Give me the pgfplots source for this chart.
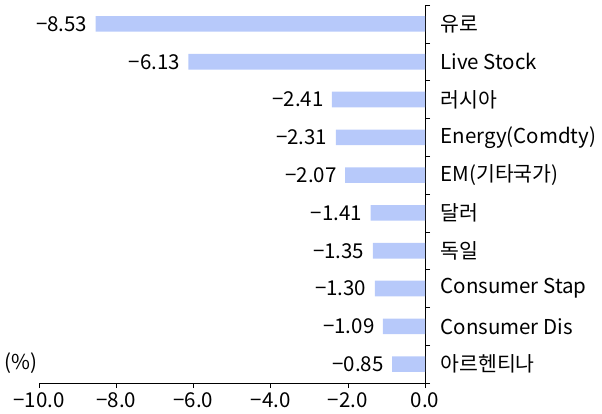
\documentclass[border=0pt]{standalone}
\usepackage{pgfplots}
\usepackage{pgfplotstable}
\pgfplotsset{compat=1.18}
\usepackage{fontspec}
\setmainfont{Noto Sans CJK KR}
\definecolor{barblue}{RGB}{183,201,250}
\newcommand\f{\fontsize{20.5bp}{25bp}\selectfont}
\pgfplotstableread[col sep=comma]{
y,x,label
0,-8.53,−8.53
1,-6.13,−6.13
2,-2.41,−2.41
3,-2.31,−2.31
4,-2.07,−2.07
5,-1.41,−1.41
6,-1.35,−1.35
7,-1.30,−1.30
8,-1.09,−1.09
9,-0.85,−0.85
}\data
\begin{document}
\begin{tikzpicture}[font=\f]
\useasboundingbox (-39bp,-31bp) rectangle (563bp,383bp);
\begin{axis}[
  at={(0,0)}, anchor=south west,
  scale only axis, width=386bp, height=378bp,
  font=\f,
  xbar, bar width=15.6bp,
  xmin=-10, xmax=0, ymin=-0.5, ymax=9.5, y dir=reverse,
  axis x line=bottom, axis y line=right,
  axis line style={-, black, line width=0.8bp},
  xtick={-10,-8,-6,-4,-2,0},
  xticklabels={−10.0,−8.0,−6.0,−4.0,−2.0,0.0},
  tick align=outside,
  major tick length=5bp,
  tick style={black, line width=0.6bp},
  ytick={-0.5,0.5,1.5,2.5,3.5,4.5,5.5,6.5,7.5,8.5,9.5},
  yticklabels={},
  extra y ticks={0,1,2,3,4,5,6,7,8,9},
  extra y tick labels={유로,Live Stock,러시아,Energy(Comdty),EM(기타국가),달러,독일,Consumer Stap,Consumer Dis,아르헨티나},
  extra y tick style={major tick length=0pt, yticklabel style={anchor=west, xshift=12bp}},
  xticklabel style={yshift=-1bp},
  nodes near coords,
  point meta=explicit symbolic,
  every node near coord/.append style={anchor=east, xshift=-5bp, black, font=\f},
  clip=false,
]
\addplot[fill=barblue, draw=none] table[x=x, y=y, meta=label] {\data};
\end{axis}
\node[anchor=west] at (-38bp,20bp) {(\%)};
\end{tikzpicture}
\end{document}
